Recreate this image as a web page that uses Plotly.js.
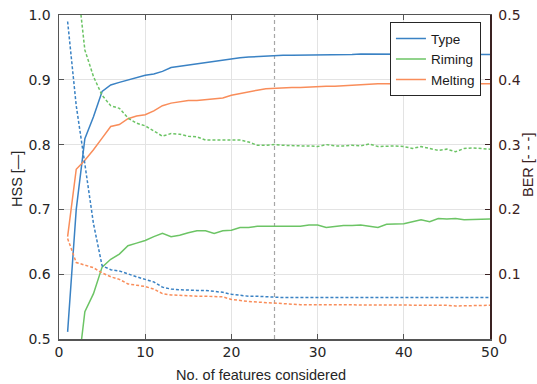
<!DOCTYPE html>
<html>
<head>
<meta charset="utf-8">
<script src="https://cdn.plot.ly/plotly-3.0.1.min.js"></script>
<style>
  html, body { margin: 0; padding: 0; background: #ffffff; }
  #chart { width: 537px; height: 384px; }
</style>
</head>
<body>
<div id="chart"></div>
<script>
// Number of input features considered (1..50)
const nFeatures = Array.from({length: 50}, (_, i) => i + 1);

// Heidke skill score (solid lines, left axis)
const hssType = [0.511, 0.700, 0.809, 0.843, 0.882, 0.892, 0.896, 0.900, 0.904, 0.907,
                 0.909, 0.913, 0.919, 0.921, 0.923, 0.925, 0.927, 0.929, 0.930, 0.932,
                 0.934, 0.935, 0.936, 0.936, 0.938, 0.938, 0.938, 0.938, 0.938, 0.938,
                 0.938, 0.939, 0.939, 0.939, 0.940, 0.940, 0.939, 0.940, 0.940, 0.940,
                 0.940, 0.940, 0.939, 0.939, 0.939, 0.940, 0.940, 0.939, 0.939, 0.939];
const hssRiming = [0.300, 0.430, 0.542, 0.570, 0.611, 0.623, 0.631, 0.644, 0.648, 0.652,
                   0.658, 0.663, 0.658, 0.660, 0.664, 0.667, 0.667, 0.663, 0.667, 0.668,
                   0.672, 0.672, 0.674, 0.674, 0.673, 0.673, 0.673, 0.674, 0.676, 0.676,
                   0.672, 0.674, 0.675, 0.675, 0.676, 0.674, 0.672, 0.677, 0.677, 0.678,
                   0.681, 0.684, 0.681, 0.686, 0.685, 0.686, 0.684, 0.684, 0.685, 0.685];
const hssMelting = [0.658, 0.762, 0.776, 0.792, 0.810, 0.828, 0.831, 0.840, 0.844, 0.846,
                    0.852, 0.860, 0.864, 0.866, 0.868, 0.868, 0.869, 0.870, 0.872, 0.876,
                    0.879, 0.882, 0.884, 0.886, 0.887, 0.887, 0.888, 0.888, 0.889, 0.889,
                    0.890, 0.890, 0.891, 0.892, 0.893, 0.894, 0.894, 0.894, 0.894, 0.894,
                    0.894, 0.893, 0.893, 0.892, 0.893, 0.893, 0.894, 0.894, 0.894, 0.894];

// Balanced error rate (dotted lines, right axis)
const berType = [0.490, 0.360, 0.270, 0.178, 0.113, 0.107, 0.105, 0.100, 0.096, 0.092,
                 0.088, 0.080, 0.077, 0.076, 0.075, 0.075, 0.075, 0.074, 0.072, 0.069,
                 0.067, 0.066, 0.066, 0.065, 0.064, 0.064, 0.064, 0.064, 0.064, 0.064,
                 0.064, 0.063, 0.063, 0.063, 0.063, 0.063, 0.063, 0.063, 0.063, 0.063,
                 0.063, 0.063, 0.063, 0.063, 0.064, 0.064, 0.064, 0.064, 0.064, 0.064];
const berRiming = [0.700, 0.566, 0.446, 0.405, 0.376, 0.360, 0.356, 0.341, 0.333, 0.329,
                   0.321, 0.313, 0.317, 0.316, 0.313, 0.312, 0.307, 0.307, 0.307, 0.307,
                   0.307, 0.304, 0.299, 0.299, 0.300, 0.299, 0.298, 0.298, 0.298, 0.297,
                   0.300, 0.298, 0.298, 0.299, 0.298, 0.301, 0.297, 0.298, 0.298, 0.297,
                   0.294, 0.297, 0.294, 0.291, 0.293, 0.289, 0.294, 0.295, 0.294, 0.293];
const berMelting = [0.155, 0.118, 0.114, 0.110, 0.102, 0.096, 0.092, 0.085, 0.083, 0.081,
                    0.077, 0.070, 0.068, 0.067, 0.066, 0.066, 0.066, 0.066, 0.065, 0.061,
                    0.059, 0.058, 0.057, 0.056, 0.055, 0.054, 0.054, 0.053, 0.053, 0.053,
                    0.052, 0.052, 0.052, 0.052, 0.052, 0.052, 0.052, 0.052, 0.052, 0.052,
                    0.052, 0.052, 0.052, 0.052, 0.052, 0.051, 0.051, 0.051, 0.052, 0.052];

const seriesNames = ['Type', 'Riming', 'Melting'];
const selectedFeatures = 25;

const colors = ['#3a82c4', '#6cc465', '#f98d5a'];
const hssSets = [hssType, hssRiming, hssMelting];
const berSets = [berType, berRiming, berMelting];

const traces = [];
hssSets.forEach((ys, i) => {
  traces.push({
    x: nFeatures, y: ys, type: 'scatter', mode: 'lines', name: seriesNames[i],
    line: {color: colors[i], width: 1.5}, yaxis: 'y', showlegend: true
  });
});
berSets.forEach((ys, i) => {
  traces.push({
    x: nFeatures, y: ys, type: 'scatter', mode: 'lines', name: seriesNames[i] + ' BER',
    line: {color: colors[i], width: 1.5, dash: '3px,2px'}, yaxis: 'y2', showlegend: false
  });
});

const axisGrey = '#555555';
const tickFont = {family: 'DejaVu Sans', size: 14, color: '#262626'};
const rightColor = '#3b2222';
const labelFont = {family: 'Liberation Sans, Arial, sans-serif', size: 14.5, color: '#262626'};

const layout = {
  width: 537, height: 384,
  margin: {l: 59, r: 47, t: 15, b: 45, pad: 0},
  paper_bgcolor: '#ffffff', plot_bgcolor: '#ffffff',
  showlegend: true,
  legend: {
    x: 0.979, y: 0.978, xanchor: 'right', yanchor: 'top',
    bgcolor: '#ffffff', bordercolor: '#262626', borderwidth: 1,
    font: {family: 'Liberation Sans, Arial, sans-serif', size: 13.5, color: '#1a1a1a'},
    tracegroupgap: 0, itemwidth: 30
  },
  xaxis: {
    range: [0, 50], dtick: 10, tick0: 0,
    showgrid: true, gridcolor: '#e3e3e3', gridwidth: 1,
    zeroline: false, showline: true, linecolor: axisGrey, linewidth: 1.5,
    mirror: 'ticks', ticks: 'inside', ticklen: 5, tickcolor: axisGrey,
    tickfont: tickFont
  },
  yaxis: {
    range: [0.5, 1], dtick: 0.1, tick0: 0.5,
    showgrid: true, gridcolor: '#e3e3e3', gridwidth: 1,
    zeroline: false, showline: true, linecolor: axisGrey, linewidth: 1.5,
    ticks: 'inside', ticklen: 5, tickcolor: axisGrey,
    tickfont: tickFont, tickformat: '.1f', ticklabelstandoff: 4
  },
  yaxis2: {
    range: [0, 0.5], dtick: 0.1, tick0: 0, overlaying: 'y', side: 'right',
    showgrid: false, zeroline: false, showline: true, linecolor: rightColor, linewidth: 1.5,
    ticks: 'inside', ticklen: 5, tickcolor: rightColor,
    tickfont: {family: 'DejaVu Sans', size: 14, color: rightColor},
    tickvals: [0, 0.1, 0.2, 0.3, 0.4, 0.5], ticktext: ['0', '0.1', '0.2', '0.3', '0.4', '0.5'],
    ticklabelstandoff: 4
  },
  shapes: [{
    type: 'line', xref: 'x', yref: 'paper', x0: selectedFeatures, x1: selectedFeatures, y0: 0, y1: 1,
    line: {color: '#a6a6a6', width: 1.2, dash: '4px,3px'}, layer: 'below'
  }],
  annotations: [
    {text: 'No. of features considered', xref: 'paper', yref: 'paper', x: (261 - 59) / 431, y: 0,
     yshift: -36, xanchor: 'center', yanchor: 'middle', showarrow: false, font: labelFont},
    {text: 'HSS [—]', xref: 'paper', yref: 'paper', x: 0, xshift: -42, y: 0.5, yshift: -2,
     textangle: -90, xanchor: 'center', yanchor: 'middle', showarrow: false, font: labelFont},
    {text: 'BER [- - -]', xref: 'paper', yref: 'paper', x: 1, xshift: 38, y: 0.5, yshift: 12,
     textangle: -90, xanchor: 'center', yanchor: 'middle', showarrow: false,
     font: {family: 'Liberation Sans, Arial, sans-serif', size: 14.5, color: rightColor}}
  ]
};

Plotly.newPlot('chart', traces, layout, {displayModeBar: false, staticPlot: true});
</script>
</body>
</html>
